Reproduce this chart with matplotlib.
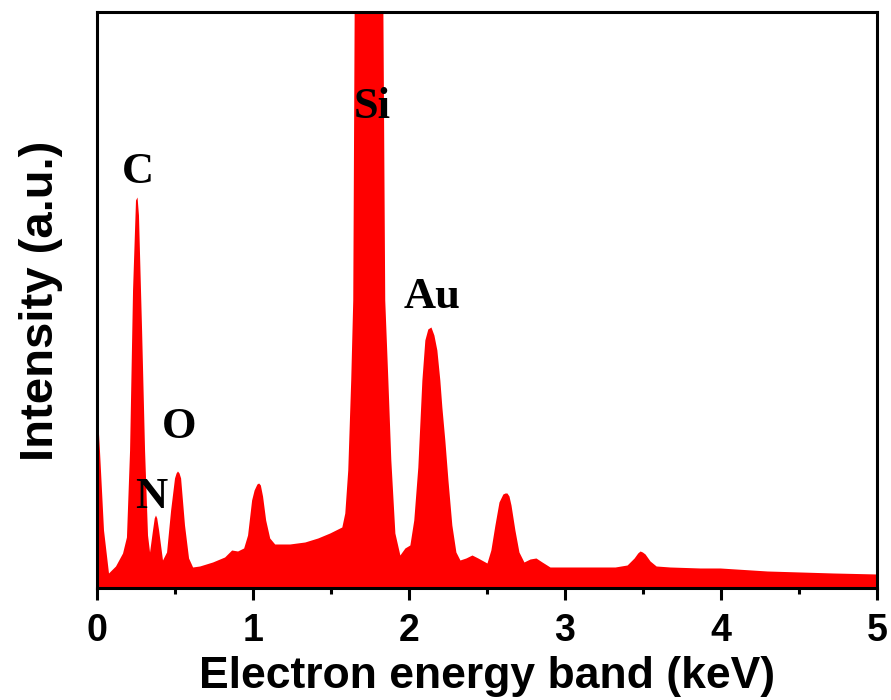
import numpy as np
import matplotlib
matplotlib.use('Agg')
import matplotlib.pyplot as plt

# --- spectrum (energy in keV, intensity in arb. units) ---
energy = [0.000, 0.008, 0.021, 0.047, 0.079, 0.124, 0.169, 0.194, 0.214, 0.233,
          0.252, 0.262, 0.271, 0.291, 0.310, 0.329, 0.342, 0.361, 0.372, 0.380,
          0.388, 0.400, 0.425, 0.451, 0.477, 0.502, 0.512, 0.521, 0.531, 0.541,
          0.566, 0.592, 0.618, 0.663, 0.746, 0.823, 0.868, 0.906, 0.945, 0.970,
          0.996, 1.012, 1.030, 1.041, 1.052, 1.066, 1.086, 1.112, 1.144, 1.240,
          1.337, 1.420, 1.497, 1.574, 1.593, 1.612, 1.631, 1.644, 1.660, 1.740,
          1.828, 1.849, 1.869, 1.888, 1.914, 1.946, 1.978, 2.010, 2.035, 2.061,
          2.087, 2.106, 2.125, 2.145, 2.164, 2.183, 2.202, 2.215, 2.234, 2.254,
          2.279, 2.305, 2.331, 2.369, 2.408, 2.446, 2.504, 2.529, 2.555, 2.581,
          2.606, 2.620, 2.632, 2.645, 2.658, 2.683, 2.709, 2.741, 2.780, 2.818,
          2.857, 2.908, 3.004, 3.164, 3.325, 3.402, 3.447, 3.470, 3.485, 3.500,
          3.517, 3.549, 3.588, 3.677, 3.870, 3.998, 4.300, 4.512, 4.724, 5.005]
intensity = [180, 173, 138, 58, 15, 22, 35, 51, 138, 298,
             388, 391, 373, 258, 138, 53, 36, 58, 70, 73,
             70, 58, 28, 36, 78, 110, 115, 117, 115, 110,
             63, 30, 21, 22, 26, 31, 38, 37, 40, 53,
             88, 98, 104, 105, 103, 92, 68, 50, 44, 44,
             46, 50, 55, 61, 75, 118, 208, 288, 800, 1000,
             800, 288, 208, 128, 55, 33, 40, 43, 68, 121,
             208, 248, 259, 261, 253, 238, 208, 181, 148, 108,
             63, 36, 28, 30, 33, 30, 25, 38, 63, 86,
             94, 95, 95, 92, 83, 58, 36, 26, 29, 30,
             26, 21, 21, 21, 21, 23, 30, 35, 37, 36,
             34, 27, 22, 21, 20, 20, 17, 16, 15, 14]

# element labels and where they sit
elements = ['C', 'N', 'O', 'Si', 'Au']
label_e = [0.265, 0.348, 0.528, 1.766, 2.151]
label_i = [416, 91, 161, 481, 291]

fig = plt.figure(figsize=(8.91, 7.0), dpi=100)
ax = fig.add_axes([0.1085, 0.1593, 0.8758, 0.8229])

ax.fill_between(energy, 0, intensity, color='#ff0000', linewidth=0)

for name, x, y in zip(elements, label_e, label_i):
    ax.text(x, y, name, family='Liberation Serif', fontweight='bold',
            fontsize=32, ha='center', va='center', color='black')

ax.set_xlim(0, 5)
ax.set_ylim(0, 576)
ax.set_yticks([])
ax.set_xticks([0, 1, 2, 3, 4, 5])
ax.set_xticks(np.arange(0.5, 5, 1.0), minor=True)
ax.tick_params(axis='x', which='major', direction='out', length=8.5, width=2.2,
               pad=9, labelsize=27)
ax.tick_params(axis='x', which='minor', direction='out', length=4.5, width=2.2)
for lbl in ax.get_xticklabels():
    lbl.set_family('Liberation Sans')
    lbl.set_fontweight('bold')
for sp in ax.spines.values():
    sp.set_linewidth(2.2)

ax.set_xlabel('Electron energy band (keV)', family='Liberation Sans',
              fontweight='bold', fontsize=32, labelpad=5)
ax.set_ylabel('Intensity (a.u.)', family='Liberation Sans',
              fontweight='bold', fontsize=34, labelpad=24)

fig.savefig('out.png', dpi=100)
